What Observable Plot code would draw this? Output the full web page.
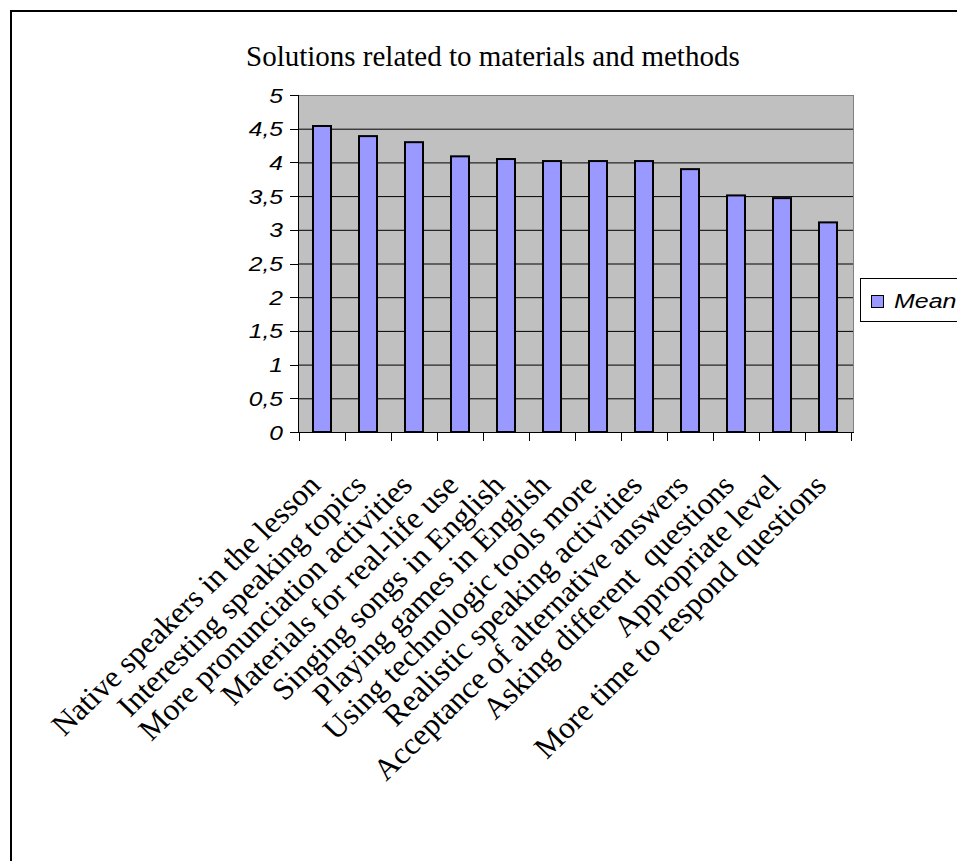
<!DOCTYPE html>
<html><head><meta charset="utf-8">
<script src="https://cdn.jsdelivr.net/npm/d3@7"></script>
<script src="https://cdn.jsdelivr.net/npm/@observablehq/plot@0.6"></script>
<style>
html,body{margin:0;padding:0;background:#fff;}
#chart{position:relative;width:957px;height:861px;overflow:hidden;}
#chart svg{display:block;}
</style></head><body><div id="chart"></div>
<script>
const title = "Solutions related to materials and methods";
const seriesName = "Mean";
const categories = [
  "Native speakers in the lesson",
  "Interesting speaking topics",
  "More pronunciation activities",
  "Materials for real-life use",
  "Singing songs in English",
  "Playing games in English",
  "Using technologic tools more",
  "Realistic speaking activities",
  "Acceptance of alternative answers",
  "Asking different  questions",
  "Appropriate level",
  "More time to respond questions"
];
const meanValues = [4.54, 4.39, 4.30, 4.09, 4.05, 4.02, 4.02, 4.02, 3.90, 3.51, 3.47, 3.11];
const yTicks = [0, 0.5, 1, 1.5, 2, 2.5, 3, 3.5, 4, 4.5, 5];
const yTickLabels = ["0", "0,5", "1", "1,5", "2", "2,5", "3", "3,5", "4", "4,5", "5"];

const data = categories.map((c, i) => ({category: c, value: meanValues[i]}));

const SANS = "Liberation Sans, Arial, sans-serif";
const SERIF = "Liberation Serif, Times New Roman, serif";

function decorations(index, scales, values, dims) {
  const {x, y} = scales;
  const {width, height, marginLeft, marginRight, marginTop, marginBottom} = dims;
  const left = marginLeft, right = width - marginRight, top = marginTop, bottom = height - marginBottom;
  const g = d3.create("svg:g");
  const lines = g.append("g").attr("shape-rendering", "crispEdges");
  const step = x.step ? x.step() : (x(categories[1]) - x(categories[0]));
  const bw = x.bandwidth ? x.bandwidth() : step * 0.4;
  const bounds = categories.map(c => x(c) - (step - bw) / 2);
  bounds.push(bounds[bounds.length - 1] + step);
  // plot border (top & right gray)
  lines.append("line").attr("x1", left).attr("x2", right + 0.5).attr("y1", top + 0.5).attr("y2", top + 0.5).attr("stroke", "#808080");
  lines.append("line").attr("x1", right + 0.5).attr("x2", right + 0.5).attr("y1", top).attr("y2", bottom).attr("stroke", "#808080");
  // axis lines
  lines.append("line").attr("x1", left + 0.5).attr("x2", left + 0.5).attr("y1", top).attr("y2", bottom + 0.5).attr("stroke", "#000");
  lines.append("line").attr("x1", left).attr("x2", right + 1).attr("y1", bottom + 0.5).attr("y2", bottom + 0.5).attr("stroke", "#000");
  // x boundary ticks
  lines.selectAll("line.xt").data(bounds).join("line").attr("class", "xt")
    .attr("x1", d => Math.round(d) + 0.5).attr("x2", d => Math.round(d) + 0.5)
    .attr("y1", bottom).attr("y2", bottom + 9).attr("stroke", "#000");
  // y ticks
  lines.selectAll("line.yt").data(yTicks).join("line").attr("class", "yt")
    .attr("x1", left - 8).attr("x2", left)
    .attr("y1", d => Math.round(y(d)) + 0.5).attr("y2", d => Math.round(y(d)) + 0.5).attr("stroke", "#000");
  // y tick labels
  g.selectAll("text.yl").data(yTicks).join("text").attr("class", "yl")
    .attr("transform", d => `translate(${left - 15},${y(d) + 7.5}) scale(1.2,1)`)
    .attr("text-anchor", "end").attr("font-family", SANS).attr("font-style", "italic")
    .attr("font-size", 20.5).attr("fill", "#000")
    .text((d, i) => yTickLabels[i]);
  // category labels (rotated)
  g.selectAll("text.xl").data(categories).join("text").attr("class", "xl")
    .attr("transform", d => `translate(${x(d) + bw / 2},${bottom + 55}) scale(1.03,1) rotate(-45)`)
    .attr("text-anchor", "end").attr("font-family", SERIF).attr("font-size", 30.5).attr("fill", "#000")
    .attr("xml:space", "preserve").style("white-space", "pre")
    .text(d => d);
  // title
  g.append("text").attr("x", left - 52).attr("y", top - 29).attr("text-anchor", "start")
    .attr("font-family", SERIF).attr("font-size", 29).attr("fill", "#000").text(title);
  // legend
  const lg = g.append("g");
  lg.append("rect").attr("x", 860.5).attr("y", 278.5).attr("width", 200).attr("height", 43)
    .attr("fill", "#fff").attr("stroke", "#000").attr("shape-rendering", "crispEdges");
  lg.append("rect").attr("x", 871.5).attr("y", 295.5).attr("width", 12).attr("height", 12)
    .attr("fill", "#9999FF").attr("stroke", "#000").attr("shape-rendering", "crispEdges");
  lg.append("text").attr("transform", "translate(894,307.5) scale(1.25,1)").attr("text-anchor", "start")
    .attr("font-family", SANS).attr("font-style", "italic").attr("font-size", 20).attr("fill", "#000")
    .text(seriesName);
  return g.node();
}

const chart = Plot.plot({
  width: 957, height: 861,
  marginLeft: 298, marginRight: 104, marginTop: 95, marginBottom: 429,
  x: {domain: categories, paddingInner: 0.6, paddingOuter: 0.3, axis: null},
  y: {domain: [0, 5], axis: null},
  style: {background: "transparent", overflow: "hidden"},
  marks: [
    Plot.frame({fill: "#C0C0C0", stroke: null}),
    Plot.ruleY(yTicks.filter(t => t > 0 && t < 5), {y: d => d, stroke: "#000", strokeWidth: 1, strokeOpacity: 1}),
    Plot.barY(data, {x: "category", y: "value", fill: "#9999FF", stroke: "#000", strokeWidth: 2}),
    decorations
  ]
});

d3.select(chart).append("rect").attr("x", 11).attr("y", 11).attr("width", 2000).attr("height", 2000)
  .attr("fill", "none").attr("stroke", "#000").attr("stroke-width", 2);

document.getElementById("chart").appendChild(chart);
</script>
</body></html>
